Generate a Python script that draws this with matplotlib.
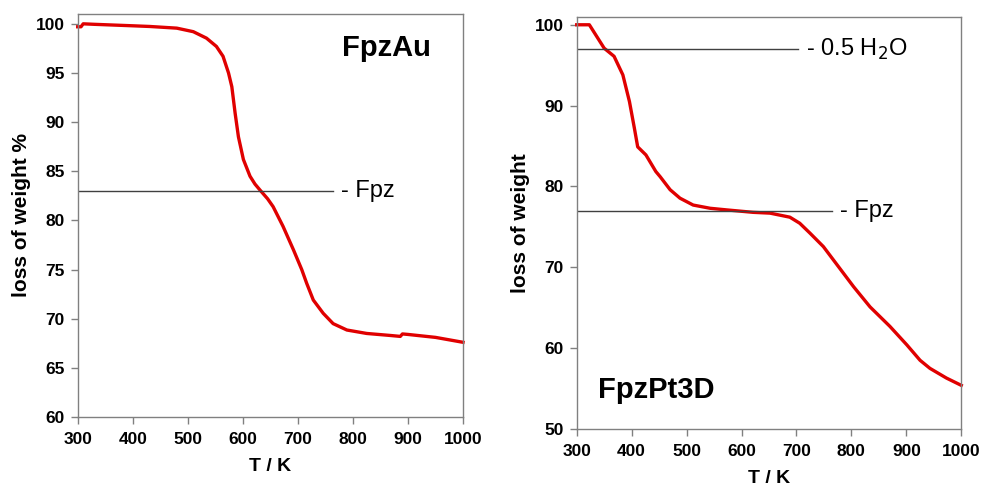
import numpy as np
import matplotlib
matplotlib.use("Agg")
import matplotlib.pyplot as plt

plt.rcParams["font.family"] = ["Liberation Sans", "DejaVu Sans"]

# FpzAu TGA curve
au_T = [300, 306, 310, 330, 400, 431, 480, 510, 534, 552, 564, 574, 580, 586,
        592, 601, 613, 622, 631, 645, 655, 673, 692, 707, 716, 728, 746, 764,
        789, 825, 867, 886, 890, 900, 950, 1000]
au_w = [99.7, 99.7, 100.0, 99.95, 99.8, 99.73, 99.56, 99.2, 98.54, 97.7,
        96.7, 95.0, 93.6, 90.9, 88.5, 86.2, 84.5, 83.7, 83.1, 82.2, 81.4,
        79.4, 77.0, 75.0, 73.6, 71.9, 70.55, 69.5, 68.85, 68.5, 68.3, 68.2,
        68.45, 68.4, 68.1, 67.6]

# FpzPt3D TGA curve
pt_T = [300, 323, 350, 368, 384, 396, 405, 411, 426, 444, 452, 470, 488, 512,
        543, 573, 621, 652, 688, 706, 725, 749, 804, 834, 870, 901, 925, 943,
        973, 1000]
pt_w = [100.0, 100.0, 97.1, 96.1, 93.8, 90.5, 87.2, 84.9, 83.9, 81.85, 81.2,
        79.6, 78.55, 77.7, 77.3, 77.1, 76.8, 76.7, 76.2, 75.45, 74.2, 72.56,
        67.6, 65.1, 62.7, 60.4, 58.5, 57.5, 56.3, 55.4]

# reference levels: (weight, line end T, label)
au_marks = [(83.0, 764, "- Fpz")]
pt_marks = [(97.0, 702, "- 0.5 H$_2$O"), (77.0, 765, "- Fpz")]

RED = "#e00000"
GREY = "#808080"

fig = plt.figure(figsize=(9.86, 4.91), dpi=100)
ax1 = fig.add_axes([0.0788, 0.1507, 0.3908, 0.8208])
ax2 = fig.add_axes([0.5849, 0.1263, 0.3900, 0.8397])


def style(ax, ylim, yticks, ylabel):
    ax.set_xlim(300, 1000)
    ax.set_ylim(*ylim)
    ax.set_xticks(range(300, 1001, 100))
    ax.set_yticks(yticks)
    for s in ax.spines.values():
        s.set_color(GREY)
        s.set_linewidth(1.0)
    ax.tick_params(direction="out", length=5, width=1, color=GREY,
                   labelsize=12.5)
    ax.tick_params(axis="x", pad=5.5)
    ax.tick_params(axis="y", pad=4.5)
    for lab in ax.get_xticklabels() + ax.get_yticklabels():
        lab.set_fontweight("bold")
    ax.set_xlabel("T / K", fontsize=14, fontweight="bold", labelpad=8)
    ax.set_ylabel(ylabel, fontsize=15, fontweight="bold", labelpad=3)


ax1.plot(au_T, au_w, color=RED, lw=2.4, clip_on=False, solid_joinstyle="round")
for w, tend, lab in au_marks:
    ax1.plot([300, tend], [w, w], color="#404040", lw=1.0)
    ax1.text(tend + 15, w, lab, fontsize=17, va="center", ha="left")
ax1.text(0.686, 0.916, "FpzAu", transform=ax1.transAxes, fontsize=21,
         fontweight="bold", va="center", ha="left")
style(ax1, (60, 101), range(60, 101, 5), "loss of weight %")

ax2.plot(pt_T, pt_w, color=RED, lw=2.4, clip_on=False, solid_joinstyle="round")
for w, tend, lab in pt_marks:
    ax2.plot([300, tend], [w, w], color="#404040", lw=1.0)
    ax2.text(tend + 15, w, lab, fontsize=17, va="center", ha="left")
ax2.text(0.055, 0.095, "FpzPt3D", transform=ax2.transAxes, fontsize=21,
         fontweight="bold", va="center", ha="left")
style(ax2, (50, 101), range(50, 101, 10), "loss of weight")

fig.savefig("out.png", dpi=100)
